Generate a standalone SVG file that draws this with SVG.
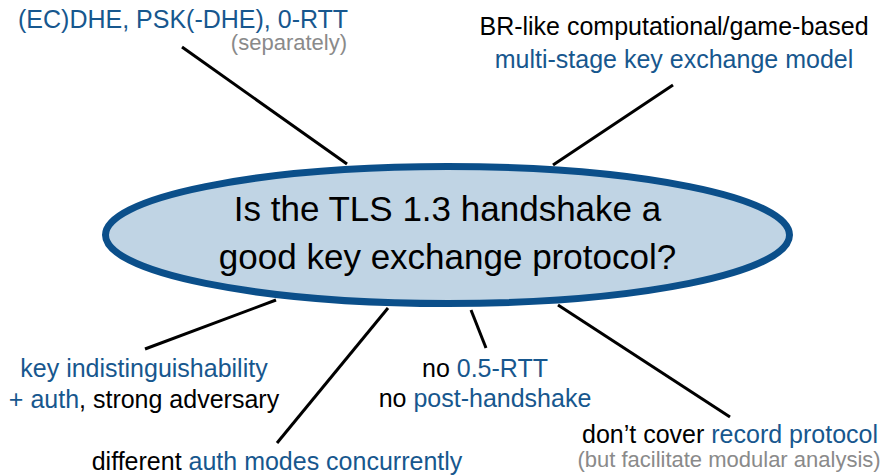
<svg xmlns="http://www.w3.org/2000/svg" width="886" height="475" viewBox="0 0 886 475">
  <style>
    text { font-family: "Liberation Sans", Arial, Helvetica, sans-serif; font-size: 25px; fill: #000; }
    .c { text-anchor: middle; }
    .r { text-anchor: end; }
    .blue { fill: #17578e; }
    .gray { fill: #8a8a8a; font-size: 22px; }
    .big { font-size: 35px; }
    .spoke { stroke: #000; stroke-width: 3; fill: none; }
  </style>

  <!-- connectors from the central question to each annotation -->
  <g id="connectors">
    <line class="spoke" x1="182" y1="47" x2="347" y2="164"/>
    <line class="spoke" x1="673" y1="85" x2="553" y2="165"/>
    <line class="spoke" x1="276" y1="300" x2="145" y2="349"/>
    <line class="spoke" x1="388" y1="308" x2="277" y2="443"/>
    <line class="spoke" x1="471" y1="310" x2="486" y2="348"/>
    <line class="spoke" x1="558" y1="305" x2="730" y2="417"/>
  </g>

  <!-- central question -->
  <g id="question">
    <ellipse cx="447.5" cy="235" rx="342" ry="68.5" fill="#c0d4e4" stroke="#0b4f8a" stroke-width="7"/>
    <text class="c big" x="447.5" y="221">Is the TLS 1.3 handshake a</text>
    <text class="c big" x="447.5" y="269">good key exchange protocol?</text>
  </g>

  <g id="variants">
    <text class="blue" x="18" y="28">(EC)DHE, PSK(-DHE), 0-RTT</text>
    <text class="gray r" x="347" y="50">(separately)</text>
  </g>

  <g id="model">
    <text class="c" x="674" y="35">BR-like computational/game-based</text>
    <text class="c blue" x="674" y="68">multi-stage key exchange model</text>
  </g>

  <g id="security">
    <text class="c blue" x="144" y="377">key indistinguishability</text>
    <text class="c" x="144" y="408"><tspan class="blue">+ auth</tspan>, strong adversary</text>
  </g>

  <g id="auth-modes">
    <text class="c" x="277" y="470">different <tspan class="blue">auth modes concurrently</tspan></text>
  </g>

  <g id="exclusions">
    <text class="c" x="485" y="377">no <tspan class="blue">0.5-RTT</tspan></text>
    <text class="c" x="485" y="407">no <tspan class="blue">post-handshake</tspan></text>
  </g>

  <g id="record">
    <text class="c" x="730" y="443">don’t cover <tspan class="blue">record protocol</tspan></text>
    <text class="c gray" x="729" y="467">(but facilitate modular analysis)</text>
  </g>
</svg>
